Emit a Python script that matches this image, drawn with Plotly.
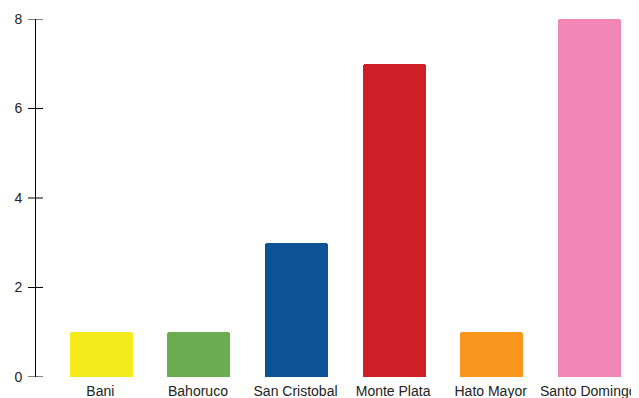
import plotly.graph_objects as go

categories = ["Bani", "Bahoruco", "San Cristobal", "Monte Plata", "Hato Mayor", "Santo Domingo"]
values = [1, 1, 3, 7, 1, 8]
colors = ["#F3EB1B", "#6AAC4F", "#0B5394", "#CF2027", "#F8961D", "#F287B7"]
y_ticks = [0, 2, 4, 6, 8]

fig = go.Figure()
fig.add_trace(go.Bar(x=categories, y=values, marker=dict(color=colors, cornerradius=3, line=dict(width=0)),
                     width=0.645))

# crossing tick marks (outside and inside of the axis line)
for v in y_ticks:
    fig.add_shape(type="line", xref="paper", xsizemode="pixel", xanchor=0, x0=-8, x1=7,
                  yref="y", y0=v, y1=v, line=dict(color="#000", width=1), layer="above")

font = dict(family="Liberation Sans, Arial, sans-serif", size=14, color="#222")
fig.update_layout(
    width=639, height=398,
    margin=dict(l=28, r=8, t=11, b=29, autoexpand=False),
    paper_bgcolor="white", plot_bgcolor="white",
    showlegend=False,
    font=font,
    bargap=0,
    xaxis=dict(range=[-0.67, 5.51], showgrid=False, showline=False, zeroline=False,
               ticks="", automargin=False, tickfont=dict(size=14, color="#222"),
               ticklabelstandoff=4, ticklabelshift=-1),
    yaxis=dict(range=[0, 8], tickvals=y_ticks, showgrid=False, zeroline=False,
               showline=True, linecolor="#000", linewidth=1, automargin=False,
               ticks="outside", ticklen=8, tickcolor="rgba(0,0,0,0)", tickwidth=1,
               tickfont=dict(size=14, color="#222"), ticklabelstandoff=2),
)
fig.write_html("out.html")
